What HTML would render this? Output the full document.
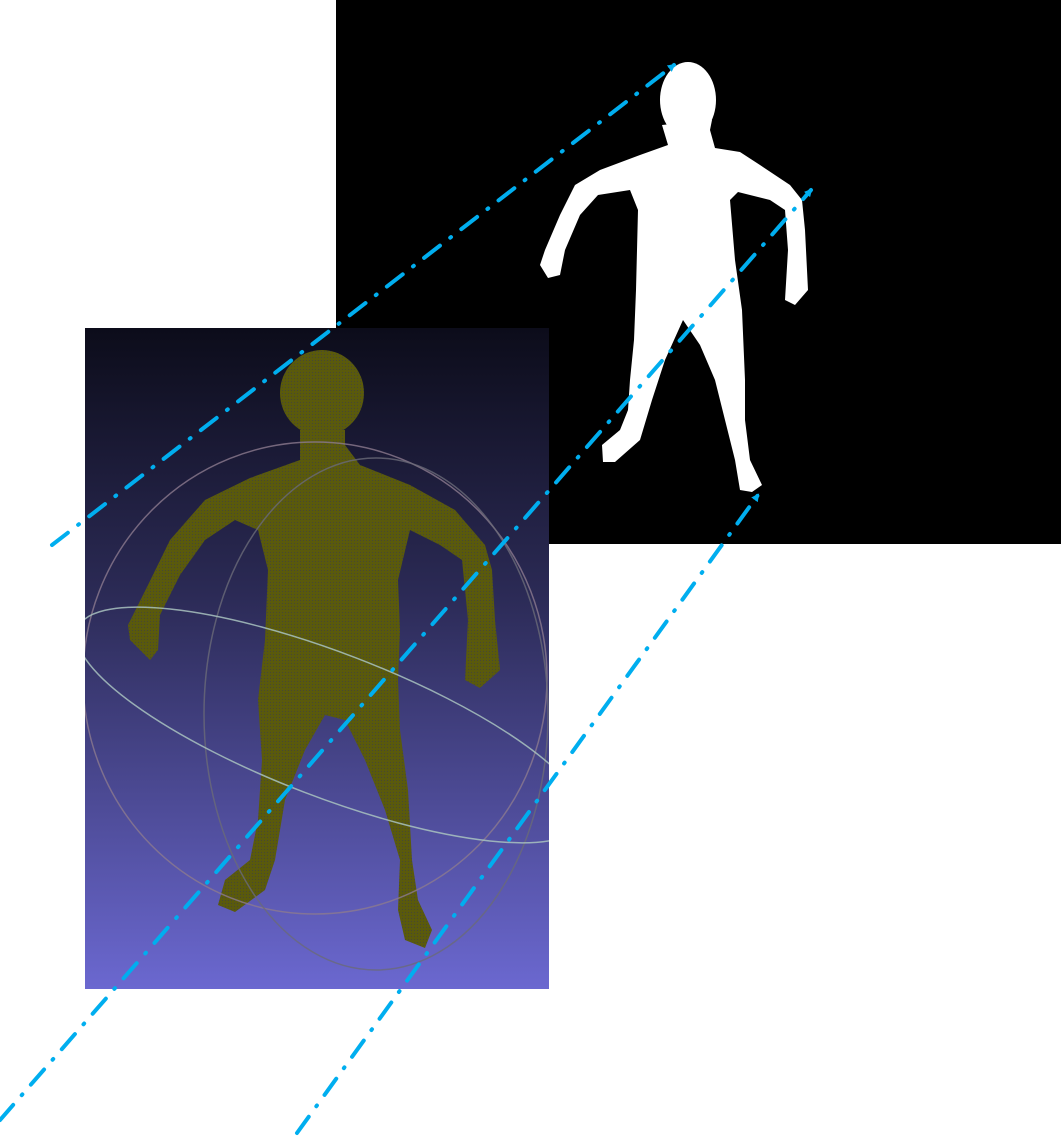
<!DOCTYPE html>
<html><head><meta charset="utf-8"><style>
html,body{margin:0;padding:0;background:#fff;width:1061px;height:1136px;overflow:hidden}
svg{display:block}
</style></head><body>
<svg width="1061" height="1136" viewBox="0 0 1061 1136">
<defs>
<linearGradient id="bg" x1="0" y1="0" x2="0" y2="1">
<stop offset="0" stop-color="#0c0c1a"/>
<stop offset="0.4" stop-color="#2b2a55"/>
<stop offset="1" stop-color="#6b68d0"/>
</linearGradient>
<pattern id="pts" width="3" height="3" patternUnits="userSpaceOnUse">
<rect width="3" height="3" fill="#5a5a0c"/>
<rect width="1" height="1" fill="#3a3a50" opacity="0.6"/>
</pattern>
<clipPath id="imgclip"><rect x="85" y="328" width="464" height="661"/></clipPath>
<marker id="arr" markerWidth="8" markerHeight="8" refX="6" refY="4" orient="auto" markerUnits="userSpaceOnUse" viewBox="0 0 8 8">
<path d="M0,0 L8,4 L0,8 z" fill="#00aeef"/>
</marker>
</defs>
<rect x="336" y="0" width="725" height="544" fill="#000"/>
<g fill="#fff">
<ellipse cx="688" cy="100" rx="28" ry="38"/>
<polygon points="662,125 668,145 640,155 600,170 575,185 560,215 545,250 540,265 548,278 560,275 565,250 580,215 598,195 630,190 638,210 636,290 634,340 630,380 628,410 620,430 602,445 603,462 615,462 640,440 652,400 665,360 683,320 700,345 715,380 725,420 735,460 740,490 752,492 762,485 750,460 745,420 745,380 742,310 735,260 730,200 738,192 770,200 785,210 788,250 785,300 795,305 808,290 805,230 802,200 790,185 760,165 740,152 715,148 710,130 712,120"/>
</g>
<rect x="85" y="328" width="464" height="661" fill="url(#bg)"/>
<g fill="url(#pts)">
<ellipse cx="322" cy="393" rx="42" ry="43"/>
<polygon points="300,430 300,460 250,478 205,500 170,540 148,585 128,625 130,640 150,660 158,650 160,615 180,575 205,540 235,520 258,530 268,570 265,640 258,700 262,760 258,820 250,860 225,880 218,905 235,912 265,890 275,860 285,800 305,750 325,715 345,720 365,760 385,810 400,860 398,910 405,940 425,948 432,930 418,900 412,860 408,790 400,730 398,680 400,630 398,580 410,530 440,545 462,560 468,620 465,680 480,688 500,670 495,620 492,570 485,545 455,510 410,485 360,465 345,445 345,430"/>
</g>
<g fill="none" stroke-width="1.5" clip-path="url(#imgclip)">
<ellipse cx="315" cy="678" rx="232" ry="236" stroke="#8c7a8f" opacity="0.8"/>
<ellipse cx="376" cy="714" rx="172" ry="256" stroke="#6a6a78" opacity="0.8"/>
<ellipse cx="330" cy="725" rx="270" ry="72" transform="rotate(21 330 725)" stroke="#a9c3c0" opacity="0.85"/>
</g>
<g stroke="#00aeef" stroke-width="4" stroke-linecap="round" stroke-dasharray="20 13 1 13" fill="none">
<line x1="52" y1="545" x2="674" y2="65" marker-end="url(#arr)"/>
<line x1="0" y1="1120" x2="811" y2="190" marker-end="url(#arr)"/>
<line x1="297" y1="1133" x2="758" y2="495" marker-end="url(#arr)"/>
</g>
</svg>
</body></html>
